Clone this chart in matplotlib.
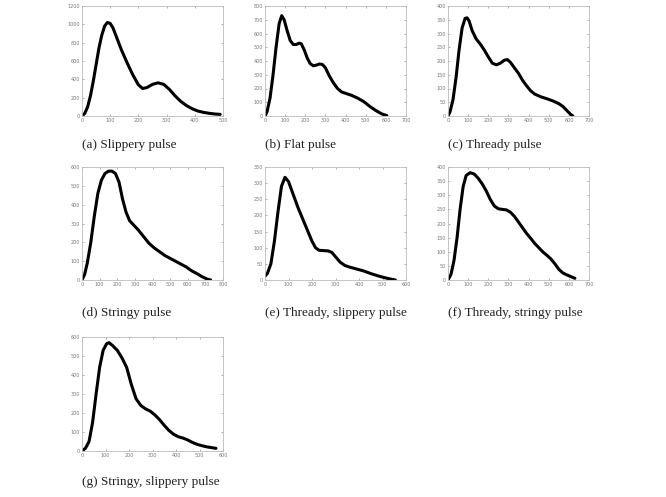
import matplotlib
matplotlib.use("Agg")
import matplotlib.pyplot as plt

# pulse waveforms (x: sample index, y: amplitude)
a_x = [0, 10, 20, 30, 40, 50, 60, 70, 80, 90, 100, 110, 120, 140, 160, 180, 200, 215, 230, 250, 270, 290, 310, 330, 350, 370, 390, 410, 430, 450, 470, 490]
a_y = [0, 30, 100, 220, 380, 560, 740, 880, 980, 1020, 1010, 960, 880, 720, 580, 450, 340, 300, 310, 345, 362, 345, 290, 220, 160, 115, 80, 55, 40, 30, 22, 18]

b_x = [0, 10, 25, 40, 55, 70, 83, 95, 110, 125, 140, 155, 170, 180, 195, 210, 225, 240, 255, 270, 285, 300, 320, 340, 360, 380, 400, 430, 460, 490, 520, 550, 580, 605]
b_y = [0, 30, 130, 300, 500, 670, 730, 700, 620, 550, 520, 520, 530, 525, 480, 420, 380, 365, 370, 378, 375, 350, 290, 240, 200, 175, 165, 150, 130, 105, 70, 40, 15, 3]

c_x = [0, 10, 25, 40, 55, 70, 85, 95, 105, 120, 140, 160, 180, 200, 220, 240, 260, 280, 295, 310, 330, 350, 370, 390, 410, 430, 460, 490, 520, 550, 570, 590, 610, 620]
c_y = [0, 15, 60, 140, 240, 320, 355, 357, 345, 310, 280, 262, 240, 215, 192, 186, 192, 203, 205, 195, 175, 155, 130, 110, 92, 80, 70, 63, 55, 45, 35, 20, 5, 0]

d_x = [0, 15, 30, 50, 70, 90, 110, 130, 150, 170, 190, 210, 230, 250, 270, 290, 320, 350, 380, 410, 440, 470, 500, 530, 560, 590, 620, 650, 680, 710, 730]
d_y = [0, 30, 90, 200, 340, 460, 530, 565, 578, 578, 565, 520, 430, 360, 315, 295, 265, 230, 195, 170, 150, 130, 115, 100, 85, 70, 50, 35, 18, 5, 0]

e_x = [0, 10, 25, 40, 55, 70, 85, 100, 120, 140, 160, 180, 200, 215, 230, 250, 270, 285, 300, 320, 340, 360, 390, 420, 450, 480, 510, 540, 555]
e_y = [12, 20, 50, 120, 210, 290, 318, 305, 265, 225, 190, 155, 120, 100, 92, 91, 90, 85, 72, 55, 45, 40, 34, 28, 20, 13, 7, 2, 0]

f_x = [0, 15, 30, 45, 60, 75, 90, 110, 130, 150, 170, 190, 210, 230, 250, 270, 290, 310, 330, 350, 370, 390, 410, 430, 450, 470, 490, 510, 530, 550, 570, 590, 610, 630]
f_y = [0, 20, 70, 150, 250, 330, 370, 380, 375, 360, 340, 315, 285, 262, 252, 250, 248, 240, 225, 205, 185, 165, 148, 130, 115, 100, 88, 75, 58, 38, 25, 18, 12, 6]

g_x = [0, 15, 30, 45, 60, 75, 90, 105, 115, 130, 150, 170, 190, 210, 230, 250, 270, 290, 310, 330, 350, 370, 390, 410, 430, 450, 470, 490, 510, 530, 550, 570]
g_y = [0, 15, 50, 150, 300, 440, 530, 565, 570, 555, 530, 490, 440, 350, 275, 240, 222, 210, 190, 165, 135, 108, 88, 75, 68, 58, 45, 35, 28, 22, 18, 14]

captions = ["(a) Slippery pulse", "(b) Flat pulse", "(c) Thready pulse",
            "(d) Stringy pulse", "(e) Thready, slippery pulse", "(f) Thready, stringy pulse",
            "(g) Stringy, slippery pulse"]
xmax = [500, 700, 700, 800, 600, 700, 600]
ymax = [1200, 800, 400, 600, 350, 400, 600]
xstep = [100, 100, 100, 100, 100, 100, 100]
ystep = [200, 100, 50, 100, 50, 50, 100]

series = [(a_x, a_y), (b_x, b_y), (c_x, c_y), (d_x, d_y), (e_x, e_y), (f_x, f_y), (g_x, g_y)]

W, H = 666, 497
fig = plt.figure(figsize=(W / 100, H / 100), dpi=100)

# axes boxes in pixels: left, top, right, bottom
lefts = [82, 265, 448]
rows = [(6, 116), (167, 280), (337, 451)]
cap_y = [145, 313, 482]

for i, (xs, ys) in enumerate(series):
    r, c = divmod(i, 3)
    l = lefts[c]
    t, b = rows[r]
    ax = fig.add_axes([l / W, (H - b) / H, 141 / W, (b - t) / H])
    ax.plot(xs, ys, color="black", lw=2.2, solid_capstyle="round")
    ax.set_xlim(0, xmax[i])
    ax.set_ylim(0, ymax[i])
    ax.set_xticks(range(0, xmax[i] + 1, xstep[i]))
    ax.set_yticks(range(0, ymax[i] + 1, ystep[i]))
    ax.tick_params(direction="in", length=1.5, width=0.4, labelsize=3.5,
                   colors="#777777", top=True, right=True, pad=1.5)
    for s in ax.spines.values():
        s.set_color("#bbbbbb")
        s.set_linewidth(0.6)
    fig.text(l / W, 1 - cap_y[r] / H, captions[i], family="Liberation Serif",
             fontsize=9.5, va="center", ha="left", color="#222222")

fig.savefig("out.png", dpi=100)
